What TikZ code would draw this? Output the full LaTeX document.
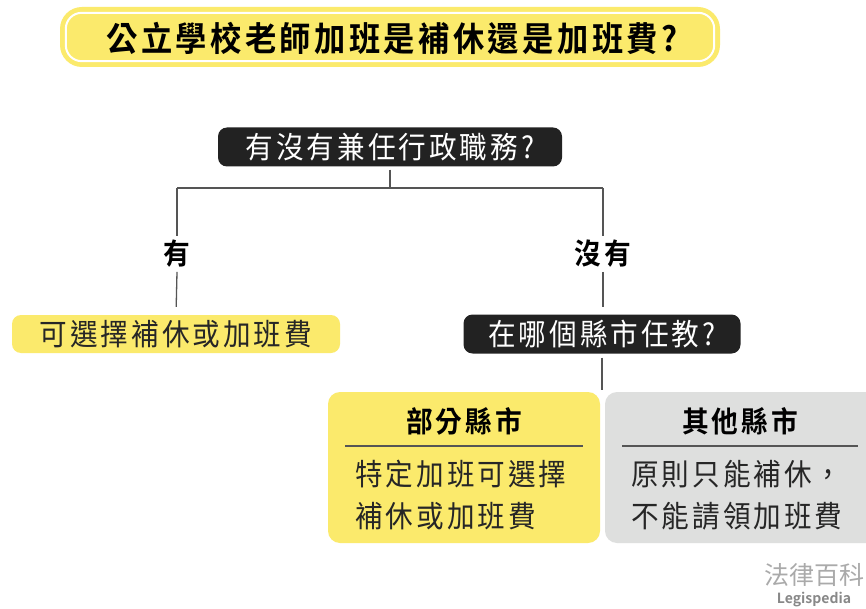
\documentclass[tikz,border=0pt]{standalone}
\usepackage{fontspec}
\setmainfont{Noto Sans CJK TC}[BoldFont={Noto Sans CJK TC Bold}, FakeStretch=0.92, LetterSpace=10]
\newfontfamily\wmfont{Noto Sans CJK TC}[BoldFont={Noto Sans CJK TC Bold}]
\definecolor{ylw}{HTML}{FBEA6C}
\definecolor{blk}{HTML}{222222}
\definecolor{gry}{HTML}{DEDFDE}
\definecolor{lin}{HTML}{555555}
\definecolor{wm}{HTML}{AAAAAA}
\definecolor{wmd}{HTML}{888888}
\tikzset{
  qbox/.style={fill=blk, text=white, rounded corners=9pt, inner sep=0pt, font=\fontsize{30}{32}\selectfont},
  abox/.style={fill=ylw, text=black!85, rounded corners=9pt, inner sep=0pt, font=\fontsize{30}{32}\selectfont},
  lbl/.style={font=\bfseries\fontsize{29}{32}\selectfont, inner sep=4pt},
  conn/.style={draw=lin, line width=1.3pt},
  hd/.style={font=\bfseries\fontsize{29}{32}\selectfont, inner sep=0pt},
  bodytxt/.style={font=\fontsize{30}{32}\selectfont, text=black!85, inner sep=0pt, anchor=west},
}
\begin{document}
\begin{tikzpicture}[x=1pt,y=-1pt]
\clip (0,0) rectangle (866,609);
\fill[white] (0,0) rectangle (866,609);
% title
\node[fill=ylw, rounded corners=22pt, minimum width=660pt, minimum height=60pt, inner sep=0pt] (title) at (390,37) {};
\draw[white, line width=2pt, rounded corners=16pt] ([shift={(6pt,-6pt)}]title.north west) rectangle ([shift={(-6pt,6pt)}]title.south east);
\node[font=\bfseries\fontsize{34}{38}\selectfont, inner sep=0pt] (titletxt) at (392,38) {公立學校老師加班是補休還是加班費?};
% question 1
\node[qbox, minimum width=344pt, minimum height=39pt] (q1) at (390,147) {有沒有兼任行政職務?};
\coordinate (split) at (390,188);
\coordinate (lt) at (177,188);
\coordinate (rt) at (603,188);
\node[lbl] (yes) at (177,254) {有};
\node[lbl] (no) at (603,254) {沒有};
\node[abox, minimum width=328pt, minimum height=38pt] (opt) at (176,334) {可選擇補休或加班費};
\node[qbox, minimum width=277pt, minimum height=39pt] (q2) at (602,334) {在哪個縣市任教?};
\draw[conn, shorten <=3pt] (q1.south) -- (split);
\draw[conn] (lt) -- (rt);
\draw[conn] (lt) -- (yes.north);
\draw[conn] (rt) -- (no.north);
\draw[conn, shorten >=8pt] (yes.south) -- (opt.north);
\draw[conn, shorten >=8pt] (no.south) -- (opt.north -| no.south);
% bottom boxes
\node[fill=ylw, rounded corners=12pt, minimum width=272pt, minimum height=151pt, inner sep=0pt] (part) at (464,467.5) {};
\node[fill=gry, rounded corners=12pt, minimum width=280pt, minimum height=151pt, inner sep=0pt] (other) at (745,467.5) {};
\draw[conn, shorten <=4pt, shorten >=2pt] (q2.south) -- (q2.south |- part.north);
\node[hd] (parthd) at (464,421) {部分縣市};
\node[hd] (otherhd) at (740,421) {其他縣市};
\coordinate (ps1) at (345,446);
\coordinate (ps2) at (583,446);
\coordinate (os1) at (622,446);
\coordinate (os2) at (858,446);
\draw[lin, line width=1.3pt] (ps1) -- (ps2);
\draw[lin, line width=1.3pt] (os1) -- (os2);
\node[bodytxt] (p1) at (355,474) {特定加班可選擇};
\node[bodytxt] (p2) at (355,516) {補休或加班費};
\node[bodytxt] (o1) at (631,474) {原則只能補休，};
\node[bodytxt] (o2) at (631,516) {不能請領加班費};
% watermark
\node[text=wm, font=\wmfont\fontsize{25}{28}\selectfont, inner sep=0pt] (wm1) at (814,575) {法律百科};
\node[text=wmd, font=\wmfont\bfseries\fontsize{14}{16}\selectfont, inner sep=0pt] (wm2) at (814,600) {Legispedia};
\end{tikzpicture}
\end{document}
